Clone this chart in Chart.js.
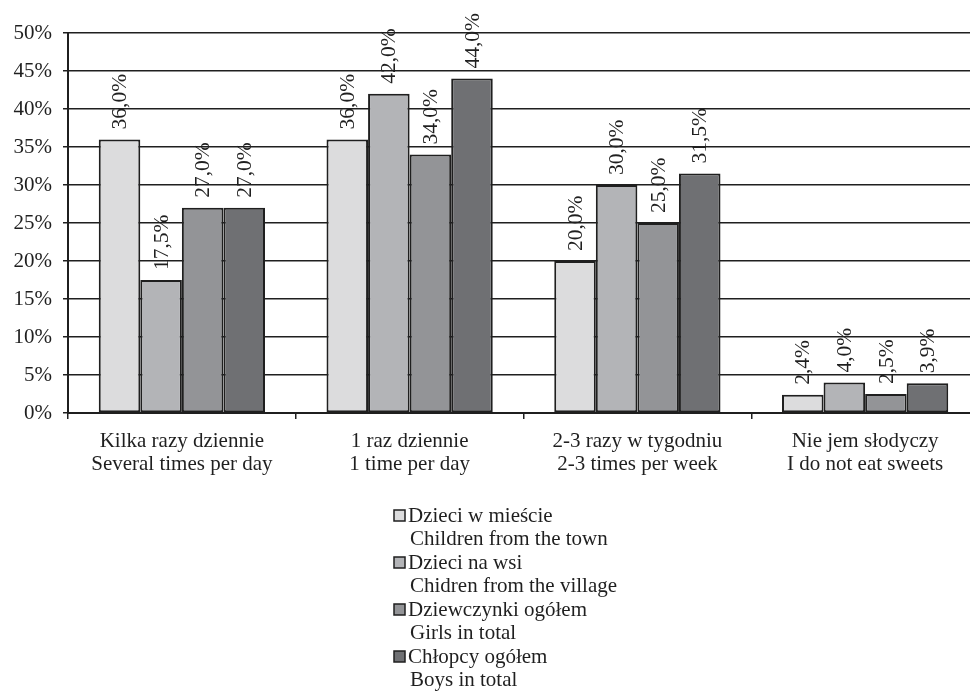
<!DOCTYPE html>
<html>
<head>
<meta charset="utf-8">
<script src="https://cdn.jsdelivr.net/npm/chart.js@4"></script>
<style>
  html, body { margin: 0; padding: 0; background: #fff; overflow: hidden; }
  #wrap { position: relative; width: 980px; height: 699px; }
</style>
</head>
<body>
<div id="wrap"><canvas id="myChart"></canvas></div>
<script>
// data
const categories = [
    ['Kilka razy dziennie', 'Several times per day'],
    ['1 raz dziennie', '1 time per day'],
    ['2-3 razy w tygodniu', '2-3 times per week'],
    ['Nie jem słodyczy', 'I do not eat sweets']
];
const seriesNames = [
    ['Dzieci w mieście', 'Children from the town'],
    ['Dzieci na wsi', 'Chidren from the village'],
    ['Dziewczynki ogółem', 'Girls in total'],
    ['Chłopcy ogółem', 'Boys in total']
];
const town = [36.0, 36.0, 20.0, 2.4];
const village = [17.5, 42.0, 30.0, 4.0];
const girls = [27.0, 34.0, 25.0, 2.5];
const boys = [27.0, 44.0, 31.5, 3.9];
const yTicks = [0, 5, 10, 15, 20, 25, 30, 35, 40, 45, 50];

const colors = ['#dcdcdd', '#b3b4b7', '#939497', '#6f7073'];
const ink = '#1f1f1f';
const serif = '"Liberation Serif", "Times New Roman", serif';

const fmt = (v) => v.toFixed(1).replace('.', ',') + '%';

// value labels, rotated
const valueLabels = {
    id: 'valueLabels',
    afterDatasetsDraw(chart) {
        const ctx = chart.ctx;
        ctx.save();
        ctx.font = '21.5px ' + serif;
        ctx.fillStyle = ink;
        ctx.textAlign = 'left';
        ctx.textBaseline = 'middle';
        chart.data.datasets.forEach((ds, i) => {
            chart.getDatasetMeta(i).data.forEach((bar, j) => {
                ctx.save();
                ctx.translate(bar.x, bar.y - 10);
                ctx.rotate(-Math.PI / 2);
                ctx.fillText(fmt(ds.data[j]), 0, 1);
                ctx.restore();
            });
        });
        ctx.restore();
    }
};

// legend below the chart, two lines per entry
const legendBelow = {
    id: 'legendBelow',
    afterDraw(chart) {
        const ctx = chart.ctx;
        ctx.save();
        ctx.font = '21px ' + serif;
        ctx.textBaseline = 'middle';
        ctx.textAlign = 'left';
        let y = 516;
        seriesNames.forEach((lines, i) => {
            ctx.fillStyle = colors[i];
            ctx.fillRect(394, y - 6, 11, 11);
            ctx.strokeStyle = ink;
            ctx.lineWidth = 1.5;
            ctx.strokeRect(394, y - 6, 11, 11);
            ctx.fillStyle = ink;
            ctx.fillText(lines[0], 408, y);
            ctx.fillText(lines[1], 410, y + 23.5);
            y += 47;
        });
        ctx.restore();
    }
};

const ctx = document.getElementById('myChart').getContext('2d');

const datasets = [town, village, girls, boys].map((d, i) => ({
    label: seriesNames[i].join(' '),
    data: d,
    backgroundColor: colors[i],
    borderColor: ink,
    borderWidth: 2,
    borderSkipped: false
}));

const chart = new Chart(ctx, {
    type: 'bar',
    data: { labels: categories, datasets },
    options: {
        responsive: true,
        maintainAspectRatio: false,
        animation: false,
        devicePixelRatio: 1,
        categoryPercentage: 0.73,
        barPercentage: 1,
        layout: { padding: { top: 33, right: 1, left: 0, bottom: 0 } },
        plugins: {
            legend: { display: false },
            tooltip: { enabled: false }
        },
        scales: {
            x: {
                grid: { drawOnChartArea: false, drawTicks: true, tickLength: 6, color: ink, lineWidth: 1.5 },
                border: { color: ink, width: 2 },
                ticks: {
                    color: ink,
                    font: { family: serif, size: 21, lineHeight: 1.1 },
                    padding: 11,
                    maxRotation: 0
                },
                afterFit: (s) => { s.height = 286; }
            },
            y: {
                min: 0,
                max: 50,
                afterBuildTicks: (s) => { s.ticks = yTicks.map(v => ({ value: v })); },
                grid: { color: ink, lineWidth: 1.5, tickLength: 5 },
                border: { color: ink, width: 2 },
                ticks: {
                    color: ink,
                    font: { family: serif, size: 21 },
                    padding: 11,
                    callback: (v) => v + '%'
                },
                afterFit: (s) => { s.width = 68; }
            }
        }
    },
    plugins: [valueLabels, legendBelow]
});
</script>
</body>
</html>
